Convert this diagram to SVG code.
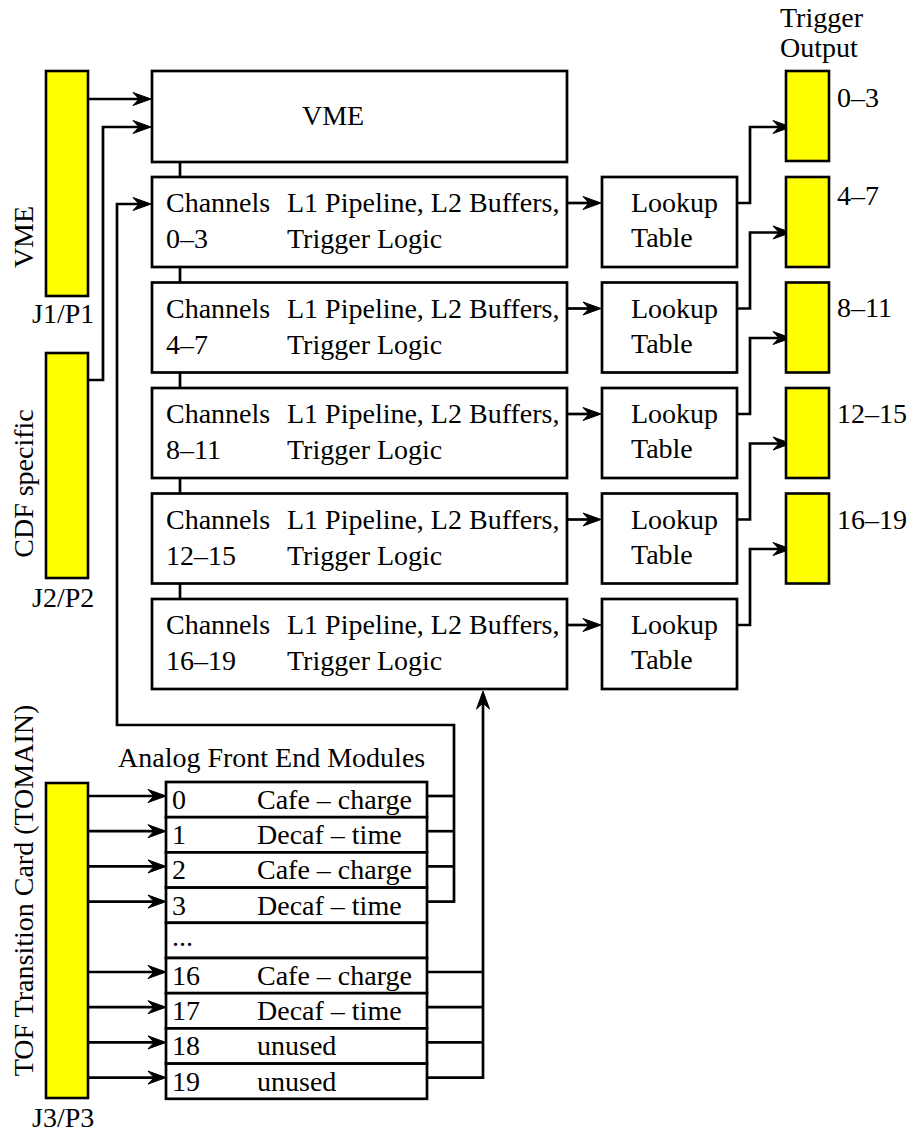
<svg xmlns="http://www.w3.org/2000/svg" width="912" height="1131" viewBox="0 0 912 1131">
<style>
text{font-family:"Liberation Serif","Times New Roman",serif;font-size:28px;fill:#000}
.box{fill:#fff;stroke:#000;stroke-width:2.7}
.yel{fill:#ffff00;stroke:#000;stroke-width:2.6}
.ln{fill:none;stroke:#000;stroke-width:2.7}
.arr{marker-end:url(#ah)}
</style>
<defs>
<marker id="ah" markerUnits="userSpaceOnUse" viewBox="-20 -8 26 16" markerWidth="26" markerHeight="16" refX="0" refY="0" orient="auto" overflow="visible">
<path d="M3,0 L-15,-6.5 L-9,0 L-15,6.5 Z" fill="#000" stroke="#000" stroke-width="1" stroke-linejoin="miter"/>
</marker>
</defs>
<rect width="912" height="1131" fill="#fff"/>

<g id="connectors">
<line class="ln arr" x1="88" y1="99" x2="148" y2="99"/>
<polyline class="ln arr" points="88,380 103,380 103,127 148,127"/>
<polyline class="ln arr" points="454,901.5 454,725 117,725 117,204 148,204"/>
<line class="ln" x1="180" y1="162" x2="180" y2="177"/>
<line class="ln" x1="180" y1="267" x2="180" y2="282.5"/>
<line class="ln" x1="180" y1="372.5" x2="180" y2="388"/>
<line class="ln" x1="180" y1="478" x2="180" y2="493.5"/>
<line class="ln" x1="180" y1="583.5" x2="180" y2="599"/>
<line class="ln arr" x1="567" y1="203" x2="598" y2="203"/>
<line class="ln arr" x1="567" y1="308.5" x2="598" y2="308.5"/>
<line class="ln arr" x1="567" y1="414" x2="598" y2="414"/>
<line class="ln arr" x1="567" y1="519.5" x2="598" y2="519.5"/>
<line class="ln arr" x1="567" y1="625" x2="598" y2="625"/>
<polyline class="ln arr" points="737,203 750,203 750,127 788,127"/>
<polyline class="ln arr" points="737,308.5 750,308.5 750,232.5 788,232.5"/>
<polyline class="ln arr" points="737,414 750,414 750,338 788,338"/>
<polyline class="ln arr" points="737,519.5 750,519.5 750,443.5 788,443.5"/>
<polyline class="ln arr" points="737,625 750,625 750,549 788,549"/>
<line class="ln arr" x1="88" y1="796" x2="163" y2="796"/>
<line class="ln arr" x1="88" y1="831.2" x2="163" y2="831.2"/>
<line class="ln arr" x1="88" y1="866.4" x2="163" y2="866.4"/>
<line class="ln arr" x1="88" y1="901.6" x2="163" y2="901.6"/>
<line class="ln arr" x1="88" y1="972" x2="163" y2="972"/>
<line class="ln arr" x1="88" y1="1007.2" x2="163" y2="1007.2"/>
<line class="ln arr" x1="88" y1="1042.4" x2="163" y2="1042.4"/>
<line class="ln arr" x1="88" y1="1077.6" x2="163" y2="1077.6"/>
<line class="ln" x1="427" y1="796" x2="454" y2="796"/>
<line class="ln" x1="427" y1="831.2" x2="454" y2="831.2"/>
<line class="ln" x1="427" y1="866.4" x2="454" y2="866.4"/>
<line class="ln" x1="427" y1="901.6" x2="455.3" y2="901.6"/>
<line class="ln" x1="427" y1="972" x2="483" y2="972"/>
<line class="ln" x1="427" y1="1007.2" x2="483" y2="1007.2"/>
<line class="ln" x1="427" y1="1042.4" x2="483" y2="1042.4"/>
<polyline class="ln arr" points="427,1077.6 483,1077.6 483,694"/>
</g>

<g id="vme-connector">
<rect class="yel" x="46" y="71" width="42" height="225"/>
<text transform="translate(33,237) rotate(-90)" text-anchor="middle">VME</text>
<text x="32" y="323">J1/P1</text>
</g>
<g id="cdf-connector">
<rect class="yel" x="46" y="353" width="42" height="225"/>
<text transform="translate(33,483.5) rotate(-90)" text-anchor="middle">CDF specific</text>
<text x="32" y="607">J2/P2</text>
</g>
<g id="tof-connector">
<rect class="yel" x="46" y="783" width="42" height="315"/>
<text transform="translate(33,890.5) rotate(-90)" text-anchor="middle">TOF Transition Card (TOMAIN)</text>
<text x="32" y="1127">J3/P3</text>
</g>

<g id="vme">
<rect class="box" x="152" y="71" width="415" height="91"/>
<text x="302" y="125">VME</text>
</g>

<g id="channels-0-3">
<rect class="box" x="152" y="177" width="415" height="90"/>
<text x="166" y="212">Channels</text><text x="287" y="212">L1 Pipeline, L2 Buffers,</text>
<text x="166" y="248">0–3</text><text x="287" y="248">Trigger Logic</text>
</g>
<g id="channels-4-7">
<rect class="box" x="152" y="282.5" width="415" height="90"/>
<text x="166" y="317.5">Channels</text><text x="287" y="317.5">L1 Pipeline, L2 Buffers,</text>
<text x="166" y="353.5">4–7</text><text x="287" y="353.5">Trigger Logic</text>
</g>
<g id="channels-8-11">
<rect class="box" x="152" y="388" width="415" height="90"/>
<text x="166" y="423">Channels</text><text x="287" y="423">L1 Pipeline, L2 Buffers,</text>
<text x="166" y="459">8–11</text><text x="287" y="459">Trigger Logic</text>
</g>
<g id="channels-12-15">
<rect class="box" x="152" y="493.5" width="415" height="90"/>
<text x="166" y="528.5">Channels</text><text x="287" y="528.5">L1 Pipeline, L2 Buffers,</text>
<text x="166" y="564.5">12–15</text><text x="287" y="564.5">Trigger Logic</text>
</g>
<g id="channels-16-19">
<rect class="box" x="152" y="599" width="415" height="90"/>
<text x="166" y="634">Channels</text><text x="287" y="634">L1 Pipeline, L2 Buffers,</text>
<text x="166" y="670">16–19</text><text x="287" y="670">Trigger Logic</text>
</g>

<g id="lookup-0">
<rect class="box" x="602" y="177" width="135" height="90"/>
<text x="631" y="212">Lookup</text><text x="631" y="247">Table</text>
</g>
<g id="lookup-1">
<rect class="box" x="602" y="282.5" width="135" height="90"/>
<text x="631" y="317.5">Lookup</text><text x="631" y="352.5">Table</text>
</g>
<g id="lookup-2">
<rect class="box" x="602" y="388" width="135" height="90"/>
<text x="631" y="423">Lookup</text><text x="631" y="458">Table</text>
</g>
<g id="lookup-3">
<rect class="box" x="602" y="493.5" width="135" height="90"/>
<text x="631" y="528.5">Lookup</text><text x="631" y="563.5">Table</text>
</g>
<g id="lookup-4">
<rect class="box" x="602" y="599" width="135" height="90"/>
<text x="631" y="634">Lookup</text><text x="631" y="669">Table</text>
</g>

<g id="trigger-output-title">
<text x="780" y="27">Trigger</text>
<text x="780" y="57">Output</text>
</g>
<g id="trigger-0-3">
<rect class="yel" x="786" y="71" width="43" height="90"/>
<text x="837" y="106.5">0–3</text>
</g>
<g id="trigger-4-7">
<rect class="yel" x="786" y="177" width="43" height="90"/>
<text x="837" y="204.5">4–7</text>
</g>
<g id="trigger-8-11">
<rect class="yel" x="786" y="282.5" width="43" height="90"/>
<text x="837" y="316.5">8–11</text>
</g>
<g id="trigger-12-15">
<rect class="yel" x="786" y="388" width="43" height="90"/>
<text x="837" y="423">12–15</text>
</g>
<g id="trigger-16-19">
<rect class="yel" x="786" y="493.5" width="43" height="90"/>
<text x="837" y="529">16–19</text>
</g>

<g id="frontend">
<text x="118" y="767">Analog Front End Modules</text>
<rect class="box" x="166" y="782" width="261" height="35.2"/>
<rect class="box" x="166" y="817.2" width="261" height="35.2"/>
<rect class="box" x="166" y="852.4" width="261" height="35.2"/>
<rect class="box" x="166" y="887.6" width="261" height="35.2"/>
<rect class="box" x="166" y="922.8" width="261" height="35.2"/>
<rect class="box" x="166" y="958" width="261" height="35.2"/>
<rect class="box" x="166" y="993.2" width="261" height="35.2"/>
<rect class="box" x="166" y="1028.4" width="261" height="35.2"/>
<rect class="box" x="166" y="1063.6" width="261" height="35.2"/>
<text x="172" y="809">0</text><text x="257" y="809">Cafe – charge</text>
<text x="172" y="844.2">1</text><text x="257" y="844.2">Decaf – time</text>
<text x="172" y="879.4">2</text><text x="257" y="879.4">Cafe – charge</text>
<text x="172" y="914.6">3</text><text x="257" y="914.6">Decaf – time</text>
<text x="172" y="946">...</text>
<text x="172" y="985">16</text><text x="257" y="985">Cafe – charge</text>
<text x="172" y="1020.2">17</text><text x="257" y="1020.2">Decaf – time</text>
<text x="172" y="1055.4">18</text><text x="257" y="1055.4">unused</text>
<text x="172" y="1090.6">19</text><text x="257" y="1090.6">unused</text>
</g>
</svg>
